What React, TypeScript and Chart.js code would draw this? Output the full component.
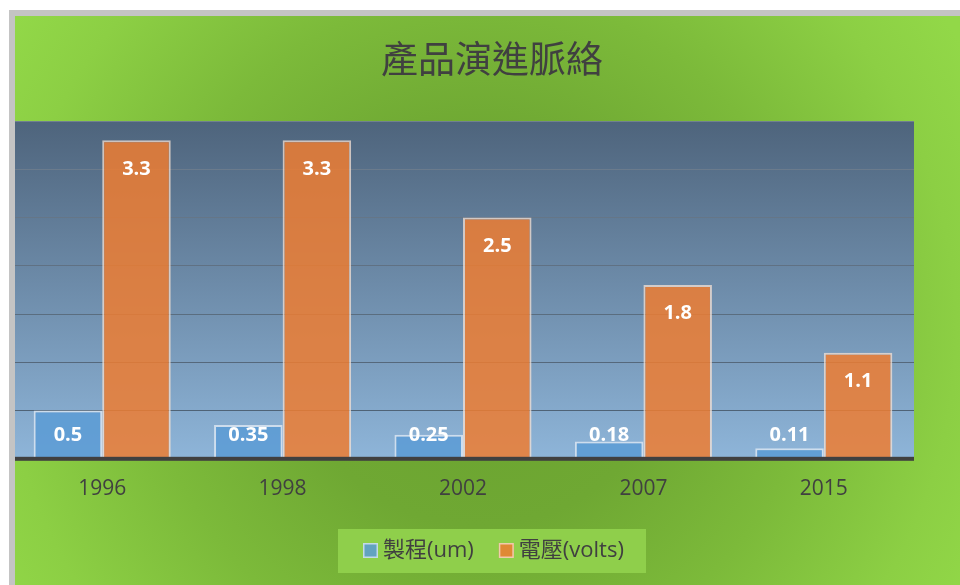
import React, { useEffect, useRef } from "react";
import { Chart, registerables } from "chart.js";

Chart.register(...registerables);

const TITLE = "產品演進脈絡";
const years = ["1996", "1998", "2002", "2007", "2015"];
const processUm = [0.5, 0.35, 0.25, 0.18, 0.11];
const voltage = [3.3, 3.3, 2.5, 1.8, 1.1];
const seriesLabels = ["製程(um)", "電壓(volts)"];
const yMax = 3.5;
const yStep = 0.5;

const LATIN_FONT = "'Open Sans', 'Noto Sans CJK TC', sans-serif";
const CJK_FONT = "'Noto Sans CJK TC', 'Open Sans', sans-serif";
const TEXT_COLOR = "#404040";
const BLUE = "rgba(91,155,213,0.85)";
const ORANGE = "rgba(237,125,49,0.85)";
const BLUE_BORDER = "rgba(228,236,246,0.75)";
const ORANGE_BORDER = "rgba(246,226,212,0.75)";

const backgroundPlugin = {
  id: "bgPlugin",
  beforeDraw(chart: any) {
    const { ctx, width, height, chartArea } = chart;
    ctx.save();
    ctx.fillStyle = "#ffffff";
    ctx.fillRect(0, 0, width, height);
    ctx.fillStyle = "#c4c4c4";
    ctx.fillRect(9, 10, width - 9, height - 10);
    const g = ctx.createRadialGradient(480, 330, 0, 480, 330, 560);
    g.addColorStop(0, "#6aa22f");
    g.addColorStop(0.35, "#6fa833");
    g.addColorStop(0.6, "#7cba3a");
    g.addColorStop(0.85, "#8ccf44");
    g.addColorStop(1, "#92d848");
    ctx.fillStyle = g;
    ctx.fillRect(15, 16, width - 15, height - 16);
    const pg = ctx.createLinearGradient(0, chartArea.top, 0, chartArea.bottom);
    pg.addColorStop(0, "#4e647c");
    pg.addColorStop(1, "#8eb5d9");
    ctx.fillStyle = pg;
    ctx.fillRect(
      chartArea.left,
      chartArea.top,
      chartArea.right - chartArea.left,
      chartArea.bottom - chartArea.top
    );
    ctx.restore();
  },
  afterDatasetsDraw(chart: any) {
    const { ctx, chartArea } = chart;
    ctx.save();
    // axis line
    ctx.fillStyle = "#404040";
    ctx.fillRect(chartArea.left, chartArea.bottom - 2, chartArea.right - chartArea.left, 4);
    // data labels
    ctx.fillStyle = "#ffffff";
    ctx.font = `bold 20px ${LATIN_FONT}`;
    ctx.textAlign = "center";
    ctx.textBaseline = "middle";
    chart.data.datasets.forEach((ds: any, di: number) => {
      const meta = chart.getDatasetMeta(di);
      meta.data.forEach((el: any, i: number) => {
        const y = Math.min(el.y + 28.5, el.base - 23.5);
        ctx.fillText(String(ds.data[i]), el.x, y);
      });
    });
    ctx.restore();
  },
  afterDraw(chart: any) {
    const { ctx, height, width } = chart;
    ctx.save();
    // frame overlay
    ctx.fillStyle = "#c4c4c4";
    ctx.fillRect(9, 10, 6, height - 10);
    ctx.fillRect(9, 10, width - 9, 6);
    // title
    ctx.fillStyle = TEXT_COLOR;
    ctx.font = `37px ${CJK_FONT}`;
    ctx.textAlign = "center";
    ctx.textBaseline = "middle";
    ctx.fillText(TITLE, 492, 58.5);
    // legend
    ctx.fillStyle = "#8fcf4b";
    ctx.fillRect(338, 529, 308, 44);
    ctx.font = `22px ${LATIN_FONT}`;
    ctx.textAlign = "left";
    let x = 363;
    chart.data.datasets.forEach((ds: any) => {
      ctx.fillStyle = ds.backgroundColor;
      ctx.fillRect(x, 543, 15, 15);
      ctx.strokeStyle = ds.borderColor;
      ctx.lineWidth = 1.5;
      ctx.strokeRect(x + 0.75, 543.75, 13.5, 13.5);
      ctx.fillStyle = TEXT_COLOR;
      ctx.fillText(ds.label, x + 20, 550.5);
      x += 20 + ctx.measureText(ds.label).width + 25;
    });
    ctx.restore();
  },
};

export default function App() {
  const ref = useRef<HTMLCanvasElement>(null);
  useEffect(() => {
    if (!ref.current) return;
    const chart = new Chart(ref.current, {
      type: "bar",
      data: {
        labels: years,
        datasets: [
          {
            label: seriesLabels[0],
            data: processUm,
            backgroundColor: BLUE,
            borderColor: BLUE_BORDER,
            borderWidth: 2,
          },
          {
            label: seriesLabels[1],
            data: voltage,
            backgroundColor: ORANGE,
            borderColor: ORANGE_BORDER,
            borderWidth: 2,
          },
        ],
      },
      options: {
        responsive: false,
        animation: false,
        layout: { padding: { left: 12, right: 46, top: 121, bottom: 65 } },
        datasets: { bar: { categoryPercentage: 0.76, barPercentage: 1 } },
        plugins: {
          legend: { display: false },
          title: { display: false },
          tooltip: { enabled: false },
        },
        scales: {
          x: {
            grid: { display: false, drawTicks: false },
            border: { display: false },
            ticks: {
              color: TEXT_COLOR,
              font: { family: LATIN_FONT, size: 21 },
              padding: 18,
            },
          },
          y: {
            min: 0,
            max: yMax,
            ticks: { display: false, stepSize: yStep },
            border: { display: false },
            grid: {
              drawTicks: false,
              lineWidth: 1,
              color: (c: any) => {
                const v = c.tick ? c.tick.value : 0;
                const t = v / yMax;
                const r = Math.round(74 + (112 - 74) * t);
                const g = Math.round(94 + (128 - 94) * t);
                const b = Math.round(114 + (144 - 114) * t);
                return `rgb(${r},${g},${b})`;
              },
            },
          },
        },
      },
      plugins: [backgroundPlugin],
    } as any);
    return () => chart.destroy();
  }, []);
  return (
    <div style={{ position: "absolute", left: 0, top: 0, width: 960, height: 585 }}>
      <canvas ref={ref} width={960} height={585} style={{ display: "block" }} />
    </div>
  );
}
